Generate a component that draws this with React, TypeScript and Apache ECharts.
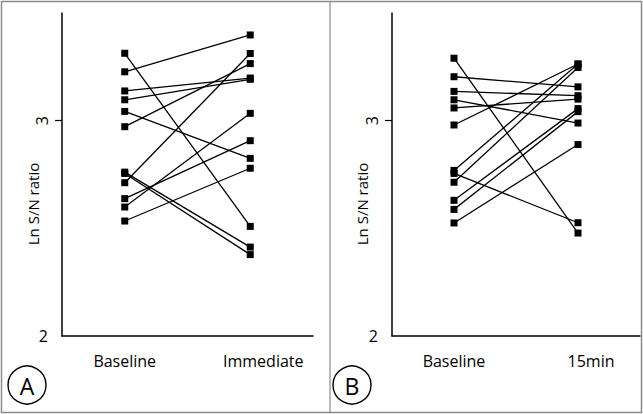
import { useEffect, useRef } from "react";
import * as echarts from "echarts";

const categoriesA = ["Baseline", "Immediate"];
const categoriesB = ["Baseline", "15min"];
// Panel A: Ln S/N ratio per subject, baseline -> immediate
const baselineA = [3.313, 3.227, 3.138, 3.097, 3.043, 2.972, 2.761, 2.755, 2.712, 2.638, 2.599, 2.534];
const immediateA = [2.509, 3.398, 3.198, 3.192, 2.825, 3.265, 2.413, 2.378, 3.312, 2.907, 3.034, 2.779];
// Panel B: Ln S/N ratio per subject, baseline -> 15min
const baselineB = [3.29, 3.204, 3.136, 3.097, 3.059, 2.98, 2.769, 2.755, 2.714, 2.63, 2.588, 2.525];
const min15B = [2.478, 3.157, 3.116, 2.989, 3.1, 3.263, 3.263, 2.526, 3.247, 3.056, 3.042, 2.889];
const yMin = 2;
const yMax = 3.5;
const rotatedTick = [3];
const uprightTick = [2];
const yTitle = "Ln S/N ratio";
const panelLetters = ["A", "B"];

const FONT = "'Open Sans', sans-serif";

export default function App() {
  const ref = useRef<HTMLDivElement>(null);
  useEffect(() => {
    if (!ref.current) return;
    const chart = echarts.init(ref.current, null, { renderer: "svg" });

    const xAxisFor = (cats: string[], gridIndex: number) => ({
      type: "category",
      gridIndex,
      data: cats,
      boundaryGap: true,
      axisLine: { show: true, lineStyle: { color: "#000", width: 1.5 } },
      axisTick: { show: false },
      splitLine: { show: false },
      axisLabel: {
        interval: 0,
        hideOverlap: false,
        margin: 17,
        color: "#000",
        fontFamily: FONT,
        fontSize: 16,
        formatter: (v: string, i: number) => (i === 1 ? `{r|${v}}` : `{l|${v}}`),
        rich: {
          l: { fontFamily: FONT, fontSize: 16, color: "#000" },
          r: { fontFamily: FONT, fontSize: 16, color: "#000", padding: [0, 0, 0, 26] },
        },
      },
    });

    const yAxesFor = (gridIndex: number) => [
      {
        type: "value",
        gridIndex,
        min: yMin,
        max: yMax,
        interval: 1,
        axisLine: { show: true, onZero: false, lineStyle: { color: "#000", width: 1.5 } },
        axisTick: { show: true, customValues: rotatedTick, length: 7, lineStyle: { color: "#000", width: 1.2 } },
        splitLine: { show: false },
        axisLabel: {
          customValues: rotatedTick,
          rotate: 90,
          margin: 12,
          color: "#000",
          fontFamily: FONT,
          fontSize: 16,
        },
      },
      {
        type: "value",
        gridIndex,
        position: "left",
        min: yMin,
        max: yMax,
        interval: 1,
        axisLine: { show: false },
        axisTick: { show: false },
        splitLine: { show: false },
        axisLabel: {
          customValues: uprightTick,
          margin: 14,
          color: "#000",
          fontFamily: FONT,
          fontSize: 16,
        },
      },
    ];

    const seriesFor = (
      cats: string[],
      left: number[],
      right: number[],
      xAxisIndex: number,
      yAxisIndex: number
    ) =>
      left.map((v, i) => ({
        type: "line",
        xAxisIndex,
        yAxisIndex,
        data: [
          [cats[0], v],
          [cats[1], right[i]],
        ],
        symbol: "rect",
        symbolSize: 7,
        lineStyle: { color: "#000", width: 1.3 },
        itemStyle: { color: "#000" },
        emphasis: { disabled: true },
      }));

    const letterCircle = (cx: number, cy: number, letter: string) => [
      {
        type: "circle",
        shape: { cx, cy, r: 19 },
        style: { fill: "none", stroke: "#000", lineWidth: 1.4 },
      },
      {
        type: "text",
        x: cx,
        y: cy + 1,
        style: {
          text: letter,
          fontFamily: FONT,
          fontSize: 23,
          fill: "#000",
          textAlign: "center",
          textVerticalAlign: "middle",
        },
      },
    ];

    const titleText = (x: number, y: number) => ({
      type: "text",
      x,
      y,
      rotation: Math.PI / 2,
      style: {
        text: yTitle,
        fontFamily: FONT,
        fontSize: 15,
        fill: "#000",
        textAlign: "center",
        textVerticalAlign: "middle",
      },
    });

    chart.setOption({
      animation: false,
      backgroundColor: "#fff",
      grid: [
        { left: 62, top: 13, width: 251, height: 323 },
        { left: 392, top: 13, width: 248, height: 323 },
      ],
      xAxis: [xAxisFor(categoriesA, 0), xAxisFor(categoriesB, 1)],
      yAxis: [...yAxesFor(0), ...yAxesFor(1)],
      series: [
        ...seriesFor(categoriesA, baselineA, immediateA, 0, 0),
        ...seriesFor(categoriesB, baselineB, min15B, 1, 2),
      ],
      graphic: [
        {
          type: "rect",
          shape: { x: 1.5, y: 1.5, width: 640, height: 411 },
          style: { fill: "none", stroke: "#8a8a8a", lineWidth: 1.5 },
        },
        {
          type: "line",
          shape: { x1: 330, y1: 1.5, x2: 330, y2: 412.5 },
          style: { stroke: "#8a8a8a", lineWidth: 1.2 },
        },
        titleText(33, 204),
        titleText(362, 204),
        ...letterCircle(27, 385, panelLetters[0]),
        ...letterCircle(352, 385, panelLetters[1]),
      ],
    });
    return () => chart.dispose();
  }, []);
  return (
    <div
      ref={ref}
      style={{ position: "fixed", left: 0, top: 0, width: 643, height: 414 }}
    />
  );
}
